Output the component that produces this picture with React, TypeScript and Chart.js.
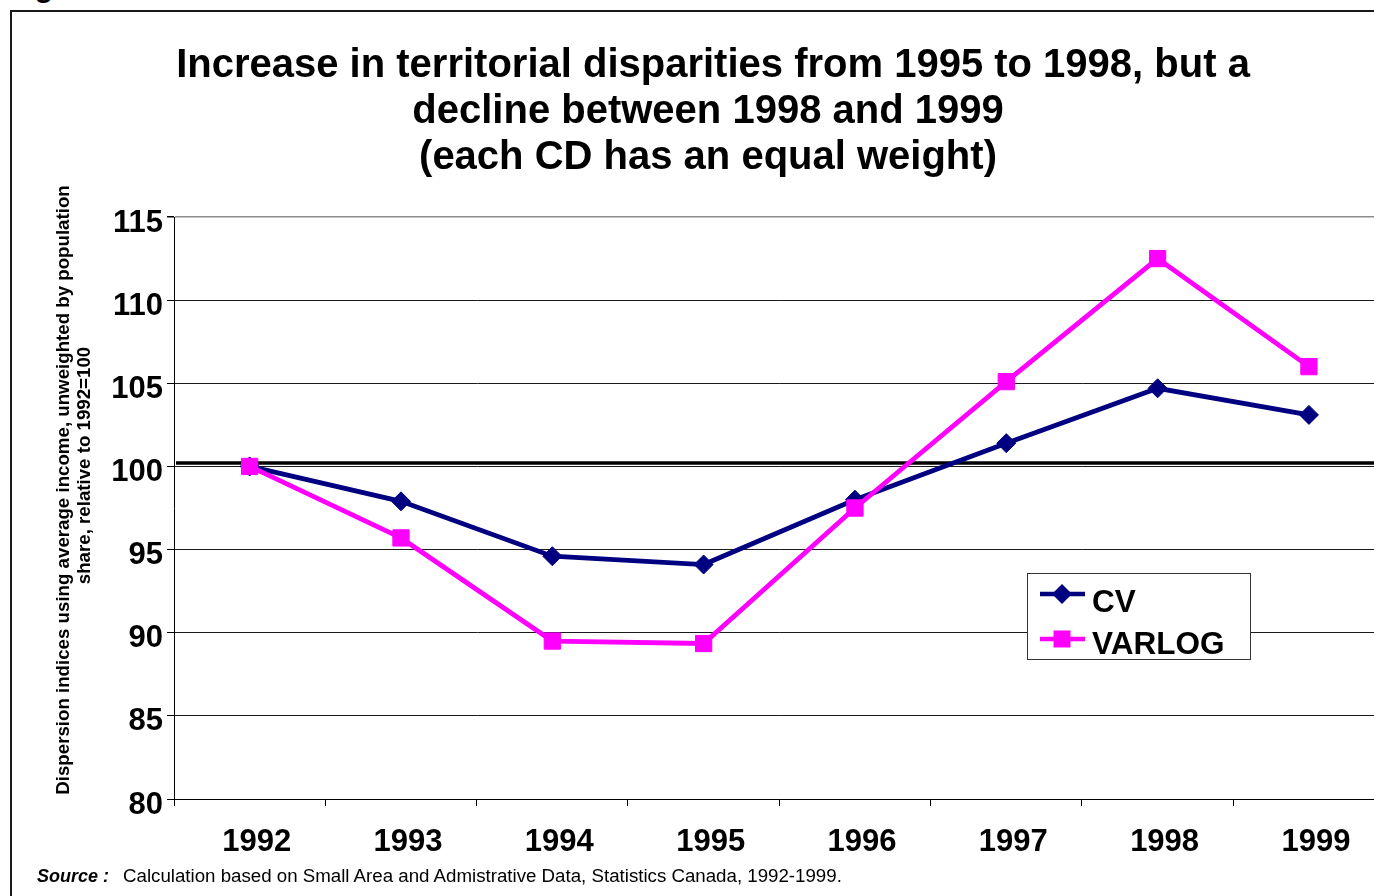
import React, { useEffect, useRef } from 'react';
import { Chart, registerables } from 'chart.js';

Chart.register(...registerables);

const years = ['1992', '1993', '1994', '1995', '1996', '1997', '1998', '1999'];
const cvValues = [100.0, 97.9, 94.6, 94.1, 98.0, 101.4, 104.7, 103.1];
const varlogValues = [100.0, 95.7, 89.5, 89.35, 97.5, 105.1, 112.5, 106.0];
const yMin = 80;
const yMax = 115;
const yStep = 5;
const baselineValue = 100.2;
const seriesNames = ['CV', 'VARLOG'];
const titleLines = [
  'Increase in territorial disparities from 1995 to 1998, but a',
  'decline between 1998 and 1999',
  '(each CD has an equal weight)',
];
const yTitleLines = [
  'Dispersion indices using average income, unweighted by population',
  'share, relative to 1992=100',
];
const sourceLabel = 'Source :';
const sourceText = 'Calculation based on Small Area and Admistrative Data, Statistics Canada, 1992-1999.';

const FONT = '"Liberation Sans", Arial, Helvetica, sans-serif';
const CV_COLOR = '#000080';
const VARLOG_COLOR = '#FF00FF';

const decorPlugin = {
  id: 'decor',
  beforeDatasetsDraw(chart: any) {
    const { ctx, chartArea, scales } = chart;
    const y = scales.y.getPixelForValue(baselineValue);
    ctx.save();
    ctx.strokeStyle = '#000';
    ctx.lineWidth = 3.5;
    ctx.beginPath();
    ctx.moveTo(chartArea.left + 2, y);
    ctx.lineTo(chartArea.right, y);
    ctx.stroke();
    ctx.restore();
  },
  afterDraw(chart: any) {
    const { ctx } = chart;
    ctx.save();
    // Title
    ctx.fillStyle = '#000';
    ctx.font = `bold 40px ${FONT}`;
    ctx.textAlign = 'center';
    ctx.textBaseline = 'alphabetic';
    const tb = [77, 123, 169];
    const tx = [713, 708, 708];
    titleLines.forEach((t, i) => ctx.fillText(t, tx[i], tb[i]));

    // Y axis title
    ctx.font = `bold 18.7px ${FONT}`;
    ctx.save();
    ctx.rotate(-Math.PI / 2);
    ctx.textAlign = 'center';
    ctx.fillText(yTitleLines[0], -490, 68.5);
    ctx.fillText(yTitleLines[1], -465.5, 90);
    ctx.restore();

    // Legend
    const bx = 1027.5, by = 573.5, bw = 223, bh = 86;
    ctx.fillStyle = '#fff';
    ctx.fillRect(bx, by, bw, bh);
    ctx.strokeStyle = '#333';
    ctx.lineWidth = 1;
    ctx.strokeRect(bx, by, bw, bh);

    const rows = [
      { name: seriesNames[0], color: CV_COLOR, y: 594, base: 611.5, shape: 'diamond' },
      { name: seriesNames[1], color: VARLOG_COLOR, y: 639, base: 653.5, shape: 'square' },
    ];
    rows.forEach((r) => {
      ctx.strokeStyle = r.color;
      ctx.fillStyle = r.color;
      ctx.lineWidth = 4.5;
      ctx.beginPath();
      ctx.moveTo(1040, r.y);
      ctx.lineTo(1085, r.y);
      ctx.stroke();
      const cx = 1062;
      ctx.beginPath();
      if (r.shape === 'diamond') {
        const rad = 10;
        ctx.moveTo(cx - rad, r.y);
        ctx.lineTo(cx, r.y - rad);
        ctx.lineTo(cx + rad, r.y);
        ctx.lineTo(cx, r.y + rad);
        ctx.closePath();
      } else {
        ctx.rect(cx - 8.5, r.y - 8.5, 17, 17);
      }
      ctx.fill();
      ctx.fillStyle = '#000';
      ctx.font = `bold 31.5px ${FONT}`;
      ctx.textAlign = 'left';
      ctx.textBaseline = 'alphabetic';
      ctx.fillText(r.name, 1092, r.base);
    });
    ctx.restore();
  },
};

export default function App() {
  const ref = useRef<HTMLCanvasElement>(null);

  useEffect(() => {
    if (!ref.current) return;
    const chart = new Chart(ref.current, {
      type: 'line',
      data: {
        labels: years,
        datasets: [
          {
            label: seriesNames[0],
            data: cvValues,
            borderColor: CV_COLOR,
            backgroundColor: CV_COLOR,
            borderWidth: 4.8,
            pointStyle: 'rectRot',
            pointRadius: 9.5,
            pointBorderWidth: 1,
            pointBackgroundColor: CV_COLOR,
            pointBorderColor: CV_COLOR,
            tension: 0,
            order: 1,
          },
          {
            label: seriesNames[1],
            data: varlogValues,
            borderColor: VARLOG_COLOR,
            backgroundColor: VARLOG_COLOR,
            borderWidth: 4.8,
            pointStyle: 'rect',
            pointRadius: 11.5,
            pointBorderWidth: 1,
            pointBackgroundColor: VARLOG_COLOR,
            pointBorderColor: VARLOG_COLOR,
            tension: 0,
            order: 0,
          },
        ],
      },
      options: {
        responsive: false,
        animation: false,
        devicePixelRatio: 1,
        layout: { padding: { left: 0, top: 217, right: 15.4, bottom: 0 } },
        plugins: {
          legend: { display: false },
          title: { display: false },
          tooltip: { enabled: false },
        },
        scales: {
          x: {
            type: 'category',
            offset: true,
            afterFit: (scale: any) => {
              scale.height = 97;
            },
            grid: {
              offset: true,
              drawOnChartArea: false,
              drawTicks: true,
              tickLength: 7,
              color: '#000',
              tickColor: '#000',
              lineWidth: 1,
            },
            border: { display: true, color: '#000', width: 1 },
            ticks: {
              color: '#000',
              font: { family: FONT, size: 31, weight: 'bold' },
              padding: 18,
              labelOffset: 7,
              maxRotation: 0,
              autoSkip: false,
            },
          },
          y: {
            min: yMin,
            max: yMax,
            afterFit: (scale: any) => {
              scale.width = 174;
            },
            grid: {
              drawTicks: true,
              tickLength: 7,
              color: (c: any) => (c.tick && c.tick.value === yMax ? '#8c8c8c' : '#1a1a1a'),
              lineWidth: (c: any) => (c.tick && c.tick.value === yMax ? 1.5 : 1),
              tickColor: '#000',
            },
            border: { display: true, color: '#000', width: 1 },
            ticks: {
              stepSize: yStep,
              color: '#000',
              font: { family: FONT, size: 31, weight: 'bold' },
              padding: 4,
              labelOffset: 6,
            },
          },
        },
      },
      plugins: [decorPlugin],
    });
    return () => chart.destroy();
  }, []);

  return (
    <div
      style={{
        position: 'fixed',
        left: 0,
        top: 0,
        width: 1374,
        height: 896,
        overflow: 'hidden',
        background: '#fff',
        fontFamily: FONT,
      }}
    >
      <div
        style={{
          position: 'absolute',
          left: 8,
          top: -28.5,
          font: `bold 30px ${FONT}`,
          lineHeight: '30px',
          whiteSpace: 'nowrap',
          color: '#000',
        }}
      >
        Figure
      </div>
      <div
        style={{
          position: 'absolute',
          left: 10,
          top: 10,
          width: 1420,
          height: 920,
          border: '2px solid #1a1a1a',
          boxSizing: 'border-box',
        }}
      />
      <canvas
        ref={ref}
        width={1400}
        height={896}
        style={{ position: 'absolute', left: 0, top: 0, width: 1400, height: 896 }}
      />
      <div
        style={{
          position: 'absolute',
          left: 37,
          top: 867,
          font: `italic bold 18px ${FONT}`,
          lineHeight: '18px',
          whiteSpace: 'nowrap',
          color: '#000',
        }}
      >
        {sourceLabel}
      </div>
      <div
        style={{
          position: 'absolute',
          left: 123,
          top: 867,
          font: `18.7px ${FONT}`,
          lineHeight: '18px',
          whiteSpace: 'nowrap',
          color: '#000',
        }}
      >
        {sourceText}
      </div>
    </div>
  );
}
